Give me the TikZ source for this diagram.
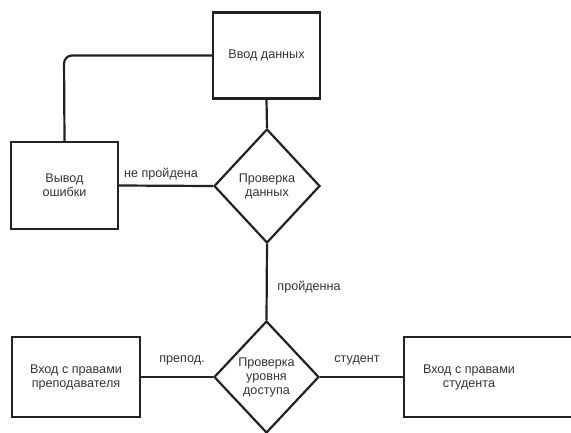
\documentclass[tikz,border=0pt]{standalone}
\usepackage{fontspec}
\setmainfont{Liberation Sans}
\usetikzlibrary{shapes.geometric}
\definecolor{ink}{HTML}{222222}
\definecolor{txt}{HTML}{333333}
\tikzset{
  every node/.style={font=\fontsize{12.6}{14}\selectfont, text=txt, align=center},
  block/.style={draw=ink, line width=2.2pt, rectangle, inner sep=0pt},
  decision/.style={draw=ink, line width=2.2pt, diamond, inner sep=0pt},
  link/.style={draw=ink, line width=2.2pt},
  tag/.style={inner sep=0pt}
}
\begin{document}
\begin{tikzpicture}[x=1pt, y=-1pt]
  \useasboundingbox (0,0) rectangle (571,432);
  \clip (0,0) rectangle (571,432);

  % process boxes
  \node[block, minimum width=107pt, minimum height=86pt] (inp) at (266.5,55.5) {Ввод данных};
  \node[block, minimum width=107pt, minimum height=87pt] (err) at (64.5,185.5) {Вывод\\ошибки};
  \node[block, minimum width=128pt, minimum height=80pt] (teach) at (76,377) {Вход с правами\\преподавателя};
  \node[block, minimum width=174pt, minimum height=80pt] (stud) at (491,377) {};
  \node[tag] (studtxt) at (469,377) {Вход с правами\\студента};

  % decisions
  \node[decision, minimum width=106pt, minimum height=114pt] (chk1) at (267,186) {Проверка\\данных};
  \node[decision, minimum width=105pt, minimum height=112pt] (chk2) at (266.5,377) {Проверка\\уровня\\доступа};

  % connectors
  \coordinate (bend) at (64,55.5);
  \draw[link, rounded corners=8pt] (inp.west) -- (bend) -- (err.north);
  \draw[link] (inp.south) -- (chk1.north);
  \draw[link] (err.east) -- (chk1.west);
  \draw[link] (chk1.south) -- (chk2.north);
  \draw[link] (teach.east) -- (chk2.west);
  \draw[link] (chk2.east) -- (stud.west);

  % branch labels
  \node[tag] (lfail) at (161,174) {не пройдена};
  \node[tag] (lpass) at (309,287) {пройденна};
  \node[tag] (lteach) at (182,360) {препод.};
  \node[tag] (lstud) at (357,360) {студент};
\end{tikzpicture}
\end{document}
